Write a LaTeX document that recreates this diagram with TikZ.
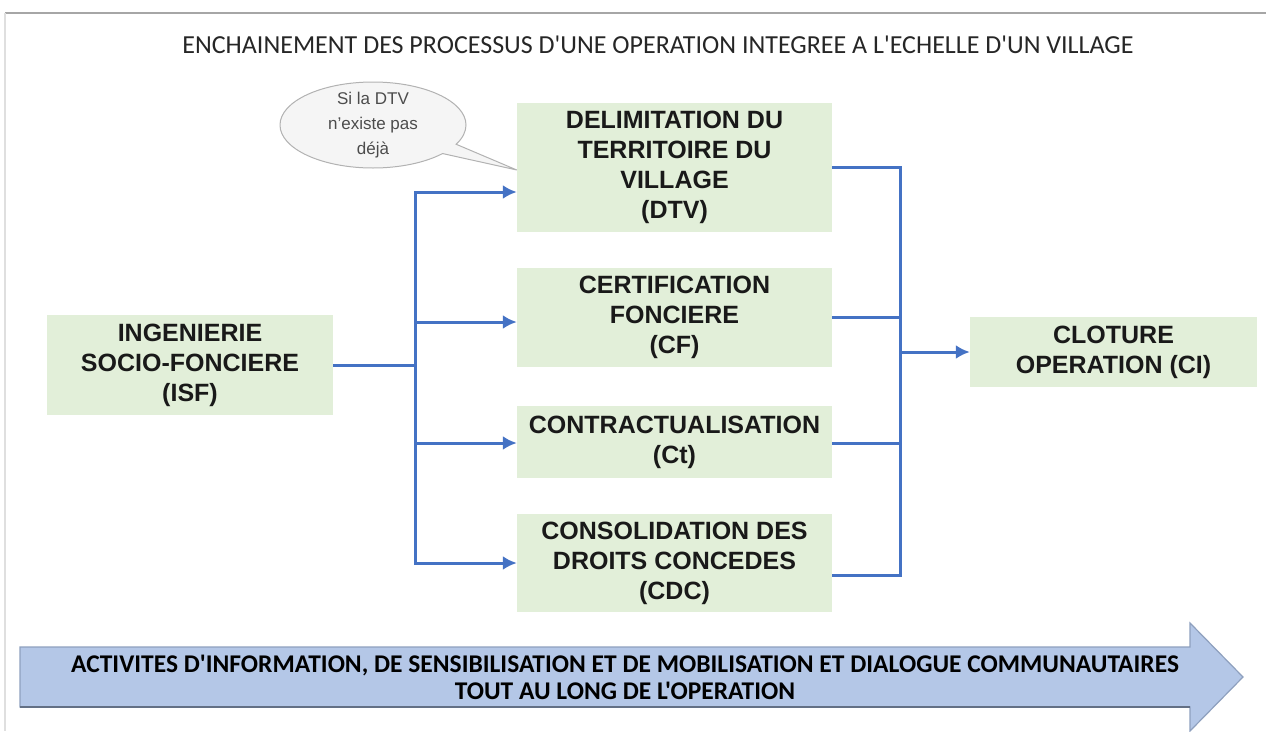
\documentclass[tikz,border=0pt]{standalone}
\usepackage{fontspec}
\setmainfont{Liberation Sans}
\newfontfamily\calfont{Carlito}
\usetikzlibrary{positioning}
\usetikzlibrary{arrows.meta,shapes}
\usetikzlibrary{shapes.callouts}
\usetikzlibrary{calc}

\definecolor{boxgreen}{HTML}{E2EFD9}
\definecolor{flowblue}{HTML}{4472C4}
\definecolor{bandblue}{HTML}{B4C7E7}
\definecolor{bandline}{HTML}{8EA0BE}

\begin{document}
\begin{tikzpicture}[x=1pt, y=-1pt,
  stagebox/.style={fill=boxgreen, text=black!90, font=\fontsize{25}{30}\selectfont\bfseries, align=center, inner sep=0pt},
  flow/.style={draw=flowblue, line width=3pt},
  flowarrow/.style={flow, -{Latex[length=14pt,width=14pt]}}]

 \useasboundingbox (0,0) rectangle (1266,731);

 %frame
 \draw[gray!70, line width=2pt] (5,13) -- (1266,13);
 \draw[gray!25, line width=1.5pt] (5,13) -- (5,731);

 %title
 \node[font=\calfont\fontsize{26}{30}\selectfont, text=black!85] (title) at (658,45) {ENCHAINEMENT DES PROCESSUS D'UNE OPERATION INTEGREE A L'ECHELLE D'UN VILLAGE};

 %stages
 \node[stagebox, minimum width=286pt, minimum height=100pt] (isf) at (190,365) {INGENIERIE\\SOCIO-FONCIERE\\(ISF)};
 \foreach \name/\y/\h/\txt in {dtv/167.5/129/{DELIMITATION DU\\TERRITOIRE DU\\VILLAGE\\(DTV)},
                              cf/317.5/99/{CERTIFICATION\\FONCIERE\\(CF)},
                              ct/442/72/{CONTRACTUALISATION\\(Ct)},
                              cdc/563/98/{CONSOLIDATION DES\\DROITS CONCEDES\\(CDC)}} {
   \node[stagebox, minimum width=315pt, minimum height=\h pt] (\name) at (674.5,\y) {\txt};
 }
 \node[stagebox, minimum width=287pt, minimum height=70pt] (ci) at (1113.5,352) {CLOTURE\\OPERATION (CI)};

 %note
 \node[ellipse callout, draw=gray!60, fill=gray!8, line width=1pt, minimum width=186pt, minimum height=86pt,
       callout absolute pointer={([yshift=-2.5pt]dtv.west)}] (note) at (373,125) {};
 \node[font=\fontsize{17}{25}\selectfont, text=black!70, align=center] (notetext) at (note.center) {Si la DTV\\n'existe pas\\déjà};

 %links
 \coordinate (split) at (415,365);
 \coordinate (merge) at (900,352);
 \draw[flow] (isf.east) -- (split);
 \foreach \name/\dy in {dtv/-24.5, cf/-4.5, ct/-1, cdc/0}
   \draw[flowarrow] (split) |- ([yshift=\dy pt]\name.west);
 \foreach \name/\dy in {dtv/0, cf/0, ct/-1, cdc/-12}
   \draw[flow] ([yshift=\dy pt]\name.east) -| (merge);
 \draw[flowarrow] (merge) -- (ci.west);

 %band
 \filldraw[fill=bandblue, draw=bandline, line width=1.2pt] (20,647) -- (1190,647) -- (1190,623) -- (1243,677) -- (1190,731) -- (1190,707) -- (20,707) -- cycle;
 \draw[bandline!70!black, line width=2pt] (20,707) -- (1190,707);
 \node[font=\calfont\bfseries\fontsize{25.5}{27}\selectfont, align=center] (band) at (625,677) {ACTIVITES D'INFORMATION, DE SENSIBILISATION ET DE MOBILISATION ET DIALOGUE COMMUNAUTAIRES\\TOUT AU LONG DE L'OPERATION};

\end{tikzpicture}
\end{document}
